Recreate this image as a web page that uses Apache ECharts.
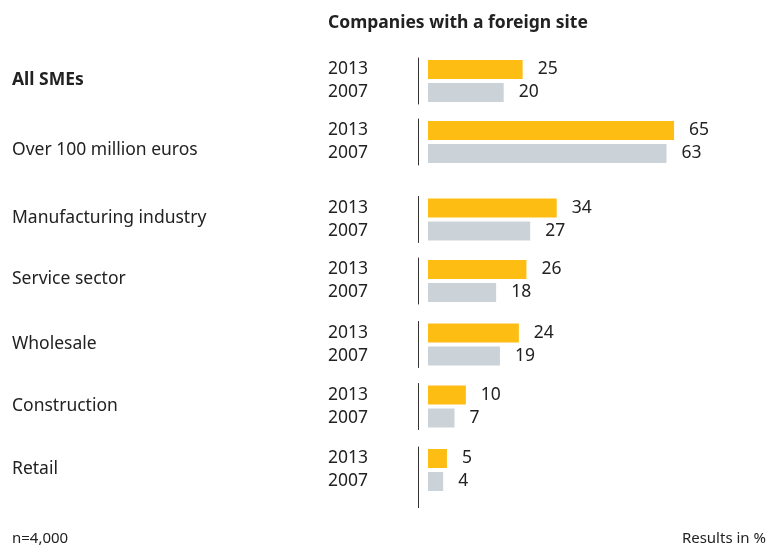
<!DOCTYPE html>
<html>
<head>
<meta charset="utf-8">
<script src="https://cdn.jsdelivr.net/npm/echarts@6/dist/echarts.min.js"></script>
<style>
html,body{margin:0;padding:0;background:#fff;}
#chart{width:779px;height:547px;}
</style>
</head>
<body>
<div id="chart"></div>
<script>
// ---- data ----
const groups = ["All SMEs", "Over 100 million euros", "Manufacturing industry", "Service sector", "Wholesale", "Construction", "Retail"];
const years = ["2013", "2007"];
const values2013 = [25, 65, 34, 26, 24, 10, 5];
const values2007 = [20, 63, 27, 18, 19, 7, 4];
const titleText = "Companies with a foreign site";
const noteLeft = "n=4,000";
const noteRight = "Results in %";

// ---- layout / style ----
const FONT = "Noto Sans";
const FS = 17.5;
const TEXT = "#222222";
const YELLOW = "#FDBD12";
const GREY = "#CBD3D8";
const groupTops = [58, 119, 196.5, 258, 321.5, 383.5, 447];
const boldGroup = [true, false, false, false, false, false, false];
const nameShift = [-0.5, 8, -1.5, -2, -0.5, -0.5, -1];

const chart = echarts.init(document.getElementById('chart'), null, {renderer: 'canvas'});

const grid = [], xAxis = [], yAxis = [], series = [];
groups.forEach((g, i) => {
  grid.push({left: 428, width: 265, top: groupTops[i], height: 46});
  xAxis.push({type: 'value', gridIndex: i, min: 0, max: 70, show: false});
  const s = nameShift[i];
  yAxis.push({
    type: 'category', gridIndex: i, data: years, inverse: true, offset: 10,
    axisLine: {show: true, onZero: false, lineStyle: {color: '#333', width: 1}},
    axisTick: {show: false},
    axisLabel: {interval: 0, hideOverlap: false, align: 'left', margin: 90, color: TEXT, fontFamily: FONT, fontSize: FS},
    name: '{n|' + g + '}', nameLocation: 'middle', nameRotate: 0, nameGap: 406,
    nameTextStyle: {align: 'left', verticalAlign: 'middle',
      rich: {n: {color: TEXT, fontFamily: FONT, fontSize: FS,
        fontWeight: boldGroup[i] ? 'bold' : 'normal',
        padding: s >= 0 ? [2 * s, 0, 0, 0] : [0, 0, -2 * s, 0]}}}
  });
  series.push({
    type: 'bar', xAxisIndex: i, yAxisIndex: i, barWidth: 19,
    data: [
      {value: values2013[i], itemStyle: {color: YELLOW}},
      {value: values2007[i], itemStyle: {color: GREY}}
    ],
    label: {show: true, position: 'right', distance: 15, color: TEXT, fontFamily: FONT, fontSize: FS},
    silent: true, animation: false
  });
});

chart.setOption({
  animation: false,
  title: [
    {text: titleText, left: 328, top: 14, padding: 0, textStyle: {fontFamily: FONT, fontSize: FS, fontWeight: 'bold', color: TEXT}},
    {text: noteLeft, left: 12, top: 531, padding: 0, textStyle: {fontFamily: FONT, fontSize: 15, fontWeight: 'normal', color: TEXT}},
    {text: noteRight, right: 13, top: 531, padding: 0, textStyle: {fontFamily: FONT, fontSize: 15, fontWeight: 'normal', color: TEXT}}
  ],
  graphic: [{type: 'line', shape: {x1: 418.5, y1: 493, x2: 418.5, y2: 508}, style: {stroke: '#333', lineWidth: 1}}],
  grid, xAxis, yAxis, series
});
</script>
</body>
</html>
